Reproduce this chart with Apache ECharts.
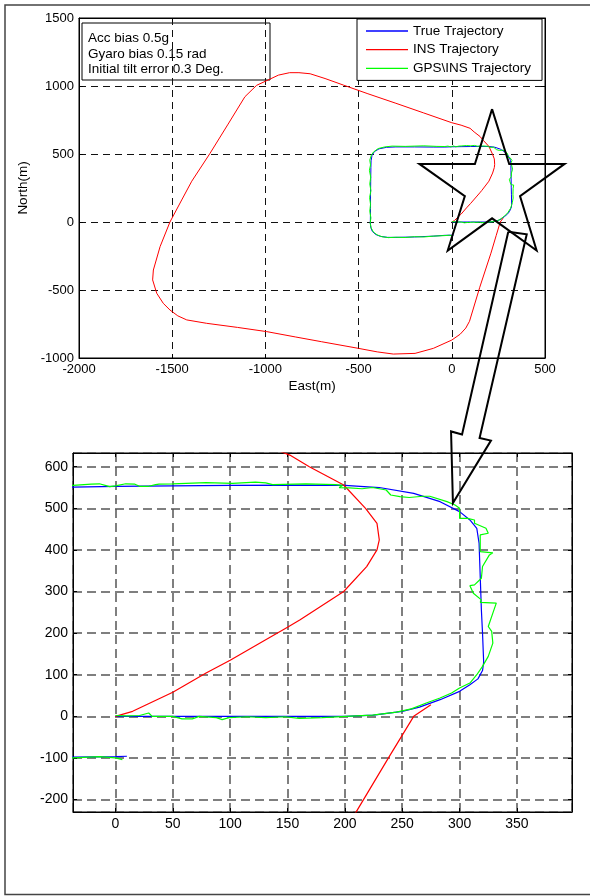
<!DOCTYPE html>
<html>
<head>
<meta charset="utf-8">
<script src="https://cdn.jsdelivr.net/npm/echarts@6.0.0/dist/echarts.min.js"></script>
<style>
  html, body { margin: 0; padding: 0; background: #fff; }
  #main { width: 590px; height: 896px; }
</style>
</head>
<body>
<div id="main"></div>
<script>
// True trajectory (East, North) in metres
const trueX = [0, 50, 100, 150, 200, 225, 250, 265, 283, 300, 309, 316, 320, 321, 320, 319, 318, 317.5, 317, 315, 309, 300, 283, 260, 230, 200, 150, 100, 50, 0, -37, -100, -200, -300, -350, -390, -415, -428, -433, -434, -435, -436, -436, -437, -435, -426, -408, -382, -345, -300, -200, -100, -37, 0, 10];
const trueY = [0, 0, 0, 0, 0, 3, 12, 22, 40, 60, 76, 90, 110, 130, 200, 256, 336, 376, 416, 452, 472, 492, 516, 536, 550, 555, 556, 555, 554, 553, 551, 551, 552, 552, 549, 538, 518, 490, 450, 400, 300, 200, 100, 0, -40, -70, -92, -106, -113, -113, -110, -104, -98, -97, -96];

// INS only trajectory
const insX = [0, 15, 50, 79, 100, 131, 150, 161, 199, 219, 228, 230, 228, 218, 199, 169, 152, 120, 98, 50, 0, -153, -300, -450, -582, -680, -760, -820, -870, -930, -975, -1047, -1110, -1200, -1297, -1395, -1449, -1512, -1565, -1601, -1605, -1583, -1548, -1512, -1470, -1422, -1315, -1150, -993, -840, -700, -501, -400, -314, -197, -99, 0, 45, 75, 95, 150, 210, 238, 260, 275];
const insY = [0, 12, 58, 104, 135, 184, 214, 232, 300, 360, 400, 424, 464, 500, 556, 600, 628, 662, 689, 712, 730, 803, 873, 943, 1007, 1055, 1090, 1098, 1098, 1080, 1051, 1005, 921, 720, 505, 300, 162, 0, -181, -353, -426, -524, -598, -647, -690, -720, -745, -775, -806, -845, -880, -929, -955, -971, -966, -929, -868, -825, -780, -730, -480, -229, -100, 0, 28];

// GPS/INS integrated trajectory
const gpsX = [0, 10, 21, 29, 32, 50, 58, 67, 73, 88, 93, 99, 115, 131, 148, 160, 180, 201, 224, 245, 258, 271, 283, 293, 300, 309, 315, 320, 325, 329, 328, 325, 329, 332, 318, 319, 312, 309, 313, 319, 320, 326, 329, 318, 318, 325, 323, 313, 313, 307, 300, 300, 296, 289, 274, 268, 256, 248, 240, 236, 224, 215, 204, 195, 198, 192, 166, 137, 131, 122, 102, 79, 50, 38, 35, 29, 21, 17, 9, 0, -5, -14, -21, -37, -80, -150, -250, -320, -360, -395, -420, -432, -440, -436, -442, -435, -440, -434, -441, -436, -440, -434, -438, -432, -420, -400, -375, -340, -300, -250, -200, -150, -100, -37, -14, 0, 6];
const gpsY = [2, 1, 2, 8, 0, 0, -6, -6, 0, -3, -8, -3, -1, -3, -1, -5, -3, 0, 3, 10, 18, 32, 44, 56, 68, 80, 100, 120, 144, 176, 204, 216, 248, 272, 274, 280, 296, 314, 316, 332, 360, 388, 393, 396, 436, 440, 452, 464, 472, 476, 476, 500, 508, 516, 529, 529, 526, 528, 532, 544, 550, 547, 549, 550, 555, 557, 559, 557, 561, 563, 560, 562, 559, 558, 557, 553, 553, 558, 559, 554, 552, 559, 558, 555, 556, 560, 556, 558, 552, 540, 515, 490, 455, 420, 380, 330, 280, 230, 180, 130, 80, 30, -10, -45, -75, -95, -108, -115, -112, -114, -108, -110, -104, -100, -97, -100, -104];

// annotations, given in the upper plot's coordinates
const starX = [216, 308, 605, 366, 455, 216, -22, 70, -174, 124, 216];
const starY = [830, 427, 427, 190, -210, 27, -210, 190, 427, 427, 830];
const arrowX = [303, 55, -4, 6, 210, 149, 402, 303];
const arrowY = [-71, -1562, -1540, -2066, -1607, -1588, -90, -71];

const noteLines = ['Acc bias 0.5g', 'Gyaro bias 0.15 rad', 'Initial tilt error 0.3 Deg.'];
const legendNames = ['True Trajectory', 'INS Trajectory', 'GPS\\INS Trajectory'];

const FONT = '"Liberation Sans", Arial, sans-serif';
const pairs = (xs, ys) => xs.map((x, i) => [x, ys[i]]);

const chart = echarts.init(document.getElementById('main'));

function valueAxis(gridIndex, opts, grid) {
  const top = grid === 'top';
  return Object.assign({
    type: 'value',
    gridIndex: gridIndex,
    axisLine: { onZero: false, lineStyle: { color: '#000', width: 1 } },
    axisTick: { inside: true, length: 4, lineStyle: { color: '#000' } },
    axisLabel: {
      color: '#000', fontFamily: FONT, fontSize: top ? 13 : 14, margin: 5,
      formatter: v => String(v)
    },
    splitLine: {
      show: true,
      lineStyle: top
        ? { color: '#111', width: 1, type: [7, 5] }
        : { color: '#555', width: 1.5, type: [9, 5] }
    }
  }, opts);
}

function mirror(axis, position) {
  return Object.assign({}, axis, {
    position: position,
    name: '',
    axisLabel: { show: false },
    splitLine: { show: false }
  });
}

const xTop = valueAxis(0, { min: -2000, max: 500, interval: 500, position: 'bottom',
  name: 'East(m)', nameLocation: 'middle', nameGap: 21,
  nameTextStyle: { color: '#000', fontFamily: FONT, fontSize: 13.5 } }, 'top');
const yTop = valueAxis(0, { min: -1000, max: 1500, interval: 500, position: 'left',
  name: 'North(m)', nameLocation: 'middle', nameGap: 33,
  nameTextStyle: { color: '#000', fontFamily: FONT, fontSize: 13.5 } }, 'top');
const xBot = valueAxis(1, { min: -37, max: 398, splitNumber: 9, position: 'bottom' }, 'bot');
xBot.axisLabel.showMinLabel = false; xBot.axisLabel.showMaxLabel = false;
const yBot = valueAxis(1, { min: -230, max: 633, splitNumber: 9, position: 'left' }, 'bot');
yBot.axisLabel.showMinLabel = false; yBot.axisLabel.showMaxLabel = false;

function trackSeries(xi, yi, width) {
  return [
    { name: legendNames[0], data: pairs(trueX, trueY), color: '#0000ff' },
    { name: legendNames[1], data: pairs(insX, insY), color: '#ff0000' },
    { name: legendNames[2], data: pairs(gpsX, gpsY), color: '#00ff00' }
  ].map(s => ({
    name: s.name,
    type: 'line',
    xAxisIndex: xi,
    yAxisIndex: yi,
    data: s.data,
    symbol: 'none',
    silent: true,
    animation: false,
    itemStyle: { color: s.color },
    lineStyle: { color: s.color, width: width }
  }));
}

const option = {
  animation: false,
  backgroundColor: '#fff',
  grid: [
    { left: 79, top: 18, width: 466, height: 340, show: true, borderColor: '#000', borderWidth: 1, backgroundColor: '#fff' },
    { left: 73, top: 453, width: 499, height: 359, show: true, borderColor: '#000', borderWidth: 1, backgroundColor: '#fff' }
  ],
  xAxis: [xTop, mirror(xTop, 'top'), xBot, mirror(xBot, 'top')],
  yAxis: [yTop, mirror(yTop, 'right'), yBot, mirror(yBot, 'right')],
  legend: {
    orient: 'vertical',
    left: 357,
    top: 19,
    icon: 'rect',
    itemWidth: 42,
    itemHeight: 1.3,
    itemGap: 2.7,
    padding: [4, 11, 4, 9],
    borderColor: '#000',
    borderWidth: 1,
    borderRadius: 0,
    backgroundColor: '#fff',
    selectedMode: false,
    textStyle: { color: '#000', fontFamily: FONT, fontSize: 13.5, lineHeight: 16 },
    data: legendNames
  },
  graphic: [
    {
      id: 'frame', type: 'rect', z: -10,
      shape: { x: 5, y: 5, width: 600, height: 889.5 },
      style: { fill: 'none', stroke: '#444', lineWidth: 1.5 }
    },
    {
      id: 'note', type: 'group', x: 82, y: 23, z: 100,
      children: [
        { type: 'rect', shape: { x: 0, y: 0, width: 188, height: 57 },
          style: { fill: '#fff', stroke: '#000', lineWidth: 1 } }
      ].concat(noteLines.map((t, i) => ({
        type: 'text', x: 6, y: 15.5 + i * 15.5,
        style: { text: t, fill: '#000', font: '13.5px ' + FONT, verticalAlign: 'middle' }
      })))
    }
  ],
  series: trackSeries(0, 0, 1).concat(trackSeries(2, 2, 1.2))
};

chart.setOption(option);

// star and arrow: mapped through the upper plot's axes
const toPx = (xs, ys) => xs.map((x, i) => chart.convertToPixel({ xAxisIndex: 0, yAxisIndex: 0 }, [x, ys[i]]));
chart.setOption({
  graphic: [
    { id: 'star', type: 'polyline', z: 50, shape: { points: toPx(starX, starY) },
      style: { stroke: '#000', lineWidth: 2, fill: null } },
    { id: 'arrow', type: 'polyline', z: 50, shape: { points: toPx(arrowX, arrowY) },
      style: { stroke: '#000', lineWidth: 2, fill: null } }
  ]
});
</script>
</body>
</html>
